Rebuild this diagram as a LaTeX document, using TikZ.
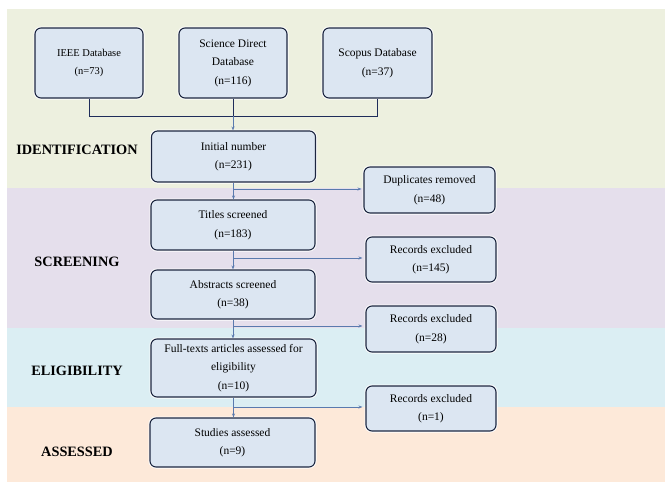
\documentclass[tikz,border=0pt]{standalone}
\usepackage{fontspec}
\setmainfont{Liberation Serif}
\usetikzlibrary{arrows.meta}
\definecolor{bandgreen}{HTML}{EDF0DF}
\definecolor{bandpurple}{HTML}{E5DFEC}
\definecolor{bandcyan}{HTML}{DBEEF3}
\definecolor{bandpeach}{HTML}{FDE9D9}
\definecolor{boxfill}{HTML}{DCE6F2}
\definecolor{boxline}{HTML}{1C2640}
\definecolor{arrowcol}{HTML}{5A7AAE}
\definecolor{joincol}{HTML}{1F2D5A}
\tikzset{
  flowbox/.style={draw=boxline, fill=boxfill, line width=1.1pt, rounded corners=6pt,
    align=center, inner sep=2pt, font=\fontsize{11.5}{18.5}\selectfont,
    preaction={draw=white, line width=3pt}},
  phase/.style={font=\fontsize{14.3}{17}\selectfont\bfseries, anchor=center},
  flowarrow/.style={draw=arrowcol, line width=0.8pt, -{Stealth[length=4pt,width=3pt]}},
  joinline/.style={draw=joincol, line width=0.8pt}
}
\begin{document}
\begin{tikzpicture}[x=1pt,y=-1pt]
\useasboundingbox (0,0) rectangle (665,482);
% bands
\fill[white] (0,0) rectangle (665,482);
\fill[bandgreen] (7,9) rectangle (665,188);
\fill[bandpurple] (7,188) rectangle (665,328);
\fill[bandcyan] (7,328) rectangle (665,407);
\fill[bandpeach] (7,407) rectangle (665,482);
% phase labels
\node[phase] (lid) at (77,150) {IDENTIFICATION};
\node[phase] (lsc) at (77,262) {SCREENING};
\node[phase] (lel) at (77,371) {ELIGIBILITY};
\node[phase] (las) at (77,452) {ASSESSED};
% databases
\node[flowbox, minimum width=108pt, minimum height=70pt, font=\fontsize{10.5}{18.5}\selectfont] (ieee) at (89,63) {IEEE Database\\(n=73)};
\node[flowbox, minimum width=108pt, minimum height=70pt] (sd) at (233,63) {Science Direct\\Database\\(n=116)};
\node[flowbox, minimum width=109pt, minimum height=70pt] (sc) at (377.5,63) {Scopus Database\\(n=37)};
% main column
\node[flowbox, minimum width=164pt, minimum height=51pt] (init) at (233.5,156.5) {Initial number\\(n=231)};
\node[flowbox, minimum width=164pt, minimum height=50pt] (tit) at (233,225) {Titles screened\\(n=183)};
\node[flowbox, minimum width=164pt, minimum height=49pt] (abs) at (233,294.5) {Abstracts screened\\(n=38)};
\node[flowbox, minimum width=165pt, minimum height=58pt] (full) at (233.5,368) {Full-texts articles assessed for\\eligibility\\(n=10)};
\node[flowbox, minimum width=165pt, minimum height=49pt] (stud) at (232.5,442.5) {Studies assessed\\(n=9)};
% exclusion boxes
\node[flowbox, minimum width=131pt, minimum height=46pt] (dup) at (429.5,190) {Duplicates removed\\(n=48)};
\node[flowbox, minimum width=130pt, minimum height=45pt] (ex1) at (431,259.5) {Records excluded\\(n=145)};
\node[flowbox, minimum width=130pt, minimum height=46pt] (ex2) at (431,329) {Records excluded\\(n=28)};
\node[flowbox, minimum width=130pt, minimum height=45pt] (ex3) at (431,408.5) {Records excluded\\(n=1)};
% database join
\coordinate (jl) at (89,116);
\coordinate (jr) at (377.5,116);
\draw[joinline] (ieee.south) -- (jl) -- (jr) -- (sc.south);
\draw[joinline] (sd.south) -- (sd.south |- jl);
\draw[flowarrow] (sd.south |- jl) -- (sd.south |- init.north);
% vertical arrows
\draw[flowarrow] (init.south) -- (init.south |- tit.north);
\draw[flowarrow] (tit.south) -- (tit.south |- abs.north);
\draw[flowarrow] (abs.south) -- (abs.south |- full.north);
\draw[flowarrow] (full.south) -- (full.south |- stud.north);
% branch arrows
\coordinate (b1) at (233.5,189);
\coordinate (b2) at (233,258);
\coordinate (b3) at (233,326);
\coordinate (b4) at (233,407);
\draw[flowarrow, shorten >=2pt] (b1) -- (dup.west |- b1);
\draw[flowarrow, shorten >=3pt] (b2) -- (ex1.west |- b2);
\draw[flowarrow, shorten >=3pt] (b3) -- (ex2.west |- b3);
\draw[flowarrow, shorten >=3pt] (b4) -- (ex3.west |- b4);
\end{tikzpicture}
\end{document}
